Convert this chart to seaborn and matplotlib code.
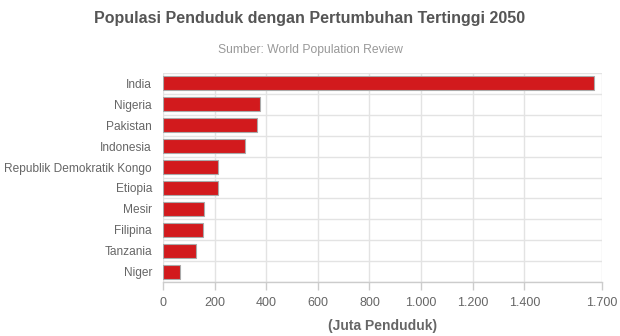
import matplotlib
matplotlib.use("Agg")
import matplotlib.pyplot as plt
import seaborn as sns
import pandas as pd
import numpy as np

countries = ["India", "Nigeria", "Pakistan", "Indonesia", "Republik Demokratik Kongo",
             "Etiopia", "Mesir", "Filipina", "Tanzania", "Niger"]
population = [1670, 375, 366, 317, 215, 212, 157, 154, 126, 64]
x_ticks = [0, 200, 400, 600, 800, 1000, 1200, 1400, 1700]
x_tick_labels = ["0", "200", "400", "600", "800", "1.000", "1.200", "1.400", "1.700"]

sns.set_theme(style="white")
plt.rcParams['font.family'] = ['Liberation Sans', 'DejaVu Sans']

df = pd.DataFrame({"Negara": countries, "Populasi": population})

fig = plt.figure(figsize=(6.2, 3.36), dpi=100)
ax = fig.add_axes([163/620, 1-282/336, (601.7-163)/620, (282-73)/336])

sns.barplot(data=df, y="Negara", x="Populasi", orient="h", color="#d21a1d",
            saturation=1, width=0.67, edgecolor="#aaaaaa", linewidth=0.8, ax=ax, zorder=3)

ax.set_xlim(0, 1700)
ax.set_ylim(len(countries) - 0.5, -0.5)
ax.set_xticks(x_ticks)
ax.set_xticklabels(x_tick_labels)
ax.set_yticks(range(len(countries)))
ax.set_yticklabels(countries)
ax.set_yticks(np.arange(-0.5, len(countries), 1.0), minor=True)

ax.grid(axis="x", which="major", color="#e3e3e3", linewidth=1, zorder=0)
ax.grid(axis="y", which="minor", color="#e3e3e3", linewidth=1, zorder=0)
ax.grid(axis="y", which="major", visible=False)

for s in ["top", "right", "left"]:
    ax.spines[s].set_visible(False)
ax.spines["bottom"].set_color("#cccccc")
ax.spines["bottom"].set_linewidth(1)

ax.tick_params(axis="x", which="major", length=6, color="#cccccc", width=1,
               labelsize=9, labelcolor="#666666", pad=5, bottom=True)
ax.tick_params(axis="y", which="both", length=0, labelsize=8.6, labelcolor="#666666", pad=8)

ax.set_ylabel("")
ax.set_xlabel("(Juta Penduduk)", fontsize=10, fontweight="bold", color="#666666", labelpad=7)

fig.text(0.5, 1-18/336, "Populasi Penduduk dengan Pertumbuhan Tertinggi 2050",
         ha="center", va="center", fontsize=11.5, fontweight="bold", color="#555555")
fig.text(0.5, 1-50/336, "Sumber: World Population Review",
         ha="center", va="center", fontsize=8.7, color="#999999")

fig.savefig("out.png", dpi=100)
